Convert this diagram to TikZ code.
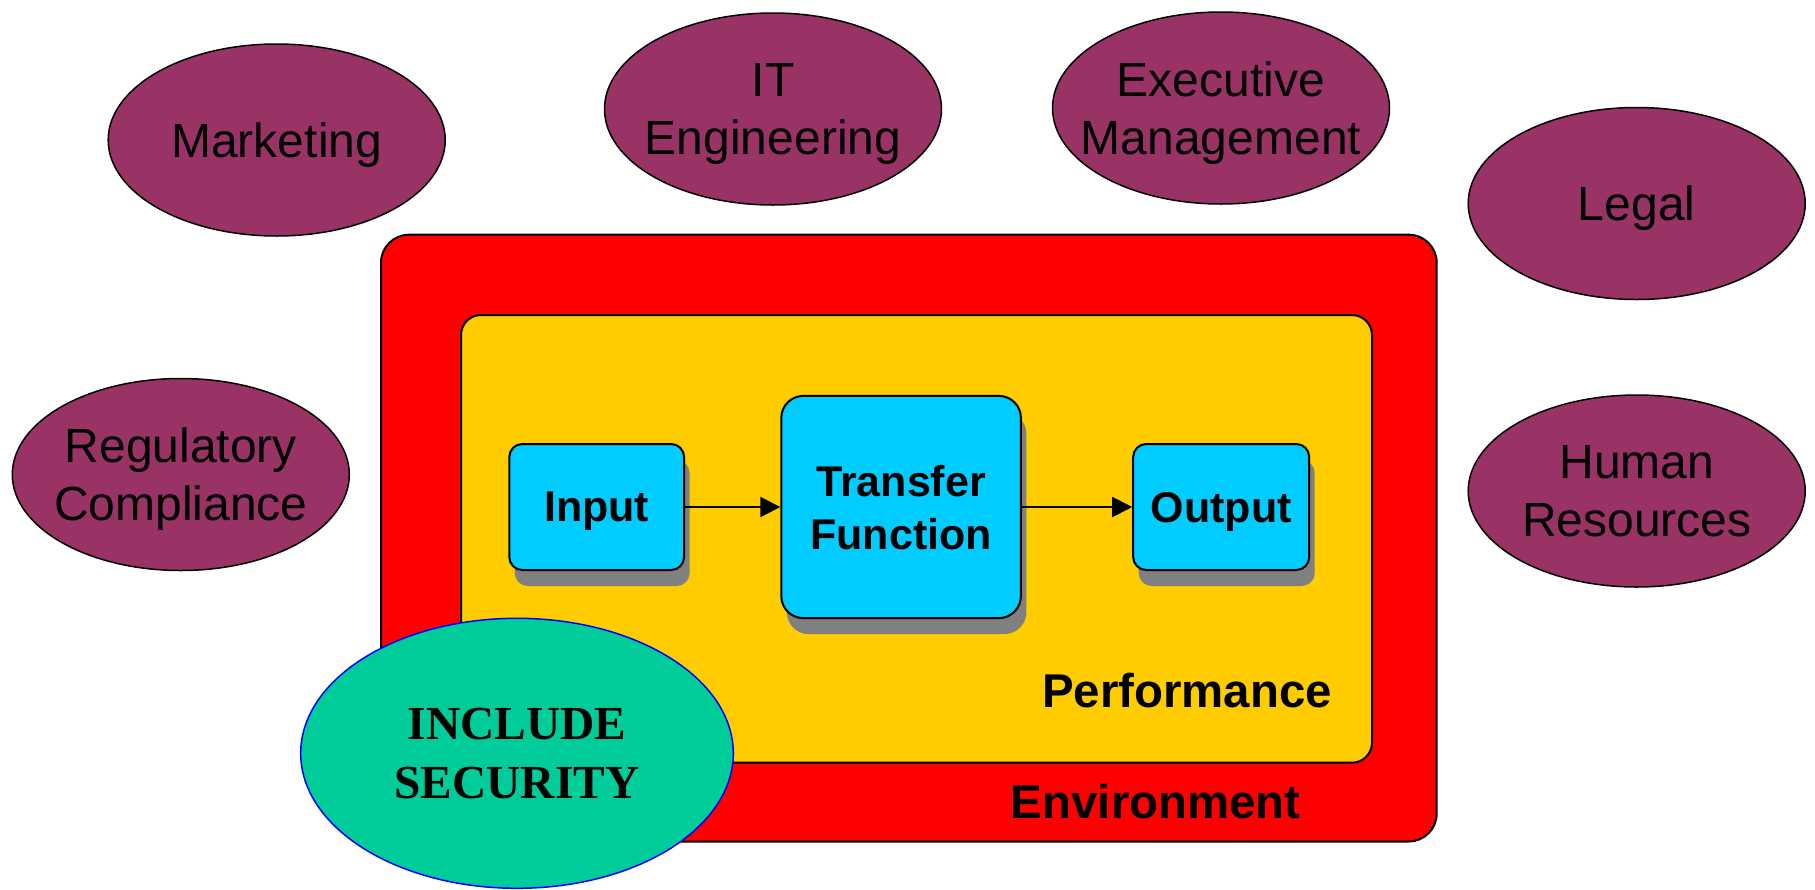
\documentclass[tikz,border=0pt]{standalone}
\usepackage{fontspec}
\setmainfont{Liberation Sans}
\newfontfamily\secfont{Liberation Serif}
\usetikzlibrary{shapes.geometric,arrows.meta,shadows}
\definecolor{plum}{HTML}{993366}
\definecolor{envred}{HTML}{FF0000}
\definecolor{perfyellow}{HTML}{FFCC00}
\definecolor{blockcyan}{HTML}{00CCFF}
\definecolor{secgreen}{HTML}{00CC99}
\definecolor{shadowgray}{HTML}{808080}
\tikzset{
  dept/.style={ellipse, draw=black, line width=0.75pt, fill=plum,
    minimum width=168.5pt, minimum height=96pt, inner sep=-16pt,
    text depth=0pt, align=center, font=\fontsize{24pt}{29pt}\selectfont},
  block/.style={draw=black, line width=1pt, fill=blockcyan,
    inner sep=0pt, align=center, text depth=0pt,
    font=\fontsize{21.5pt}{26.5pt}\selectfont\bfseries,
    general shadow={fill=shadowgray, draw=none, shadow xshift=2.75pt, shadow yshift=-8pt}},
  layer/.style={draw=black, line width=1pt, inner sep=0pt},
  layerlabel/.style={anchor=base west, inner sep=0pt,
    font=\fontsize{23.7pt}{28pt}\selectfont\bfseries},
  flow/.style={line width=1pt, -{Triangle[length=10pt,width=10pt]}}
}
\begin{document}
\begin{tikzpicture}[x=0.5pt,y=-0.5pt]
\useasboundingbox (0,0) rectangle (1815,889);

% nested system layers
\node[layer, fill=envred, rounded corners=14pt,
      minimum width=527.85pt, minimum height=303.4pt] (env) at (908.85,538.1) {};
\node[layer, fill=perfyellow, rounded corners=10pt,
      minimum width=455.5pt, minimum height=223.85pt] (perf) at (916.5,538.85) {};

% process blocks
\node[block, rounded corners=6.5pt, minimum width=87.4pt, minimum height=63pt]
  (input) at (596.7,507) {Input};
\node[block, rounded corners=11pt, minimum width=119.8pt, minimum height=111.1pt]
  (tf) at (901.1,507) {Transfer\\Function};
\node[block, rounded corners=6.5pt, minimum width=88pt, minimum height=63pt]
  (output) at (1221.2,507) {Output};

\draw[flow] (input) -- (tf);
\draw[flow] (tf) -- (output);

% layer labels
\node[layerlabel] (perflabel) at (1041.7,707.5) {Performance};
\node[layerlabel] (envlabel) at (1010.5,818.3) {Environment};

% surrounding stakeholders
\node[dept] (marketing) at (276.7,140) {Marketing};
\node[dept] (it) at (773,109) {IT\\Engineering};
\node[dept] (exec) at (1221,108) {Executive\\Management};
\node[dept] (legal) at (1636.7,203.5) {Legal};
\node[dept] (reg) at (180.8,474.5) {Regulatory\\Compliance};
\node[dept] (hr) at (1636.7,491) {Human\\Resources};

% security callout
\node[ellipse, draw=blue, line width=0.75pt, fill=secgreen,
      minimum width=216.3pt, minimum height=135pt, inner sep=0pt, align=center,
      text depth=0pt, font=\fontsize{23.7pt}{29.2pt}\secfont\bfseries]
  (security) at (517,753.3) {INCLUDE\\SECURITY};
\end{tikzpicture}
\end{document}
